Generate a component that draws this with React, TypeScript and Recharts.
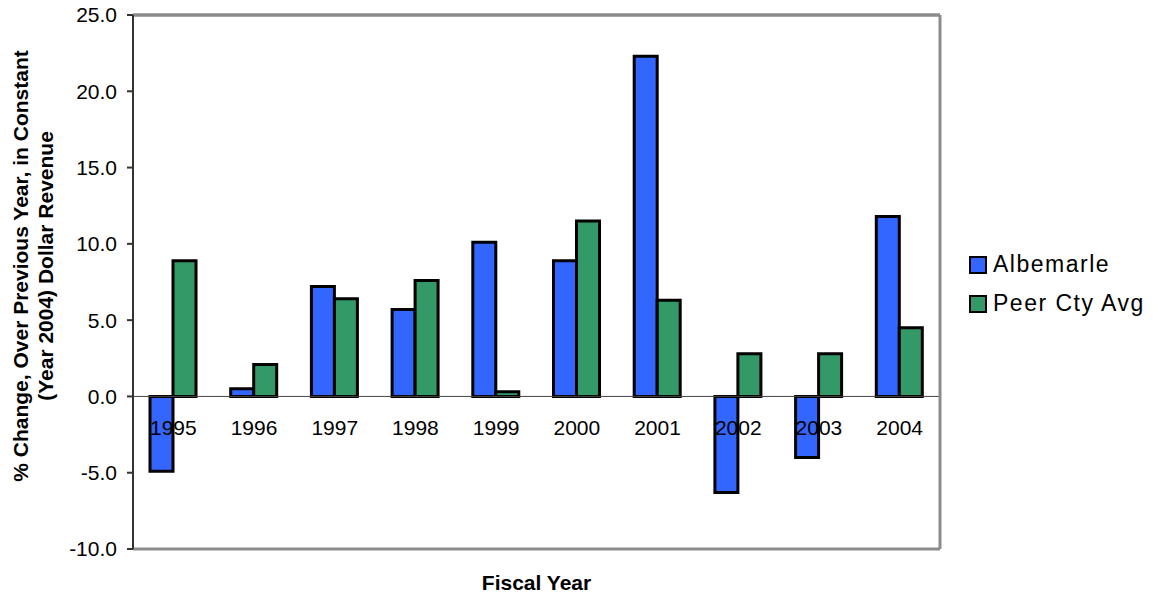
import React from "react";
import {
  BarChart,
  Bar,
  XAxis,
  YAxis,
  ReferenceLine,
  Legend,
} from "recharts";

const years = ["1995", "1996", "1997", "1998", "1999", "2000", "2001", "2002", "2003", "2004"];
const albemarle = [-4.9, 0.5, 7.2, 5.7, 10.1, 8.9, 22.3, -6.3, -4.0, 11.8];
const peerCtyAvg = [8.9, 2.1, 6.4, 7.6, 0.3, 11.5, 6.3, 2.8, 2.8, 4.5];
const yTicks = [-10, -5, 0, 5, 10, 15, 20, 25];

const seriesNames = ["Albemarle", "Peer Cty Avg"];
const seriesColors = ["#3366FF", "#339966"];

const data = years.map((y, i) => ({
  year: y,
  albemarle: albemarle[i],
  peer: peerCtyAvg[i],
}));

const FONT = "Arial, 'Liberation Sans', Helvetica, sans-serif";

const XTick = (props: any) => {
  const { x, y, payload } = props;
  return (
    <text x={x} y={y - 114} textAnchor="middle" fontFamily={FONT} fontSize={21} fill="#000">
      {payload.value}
    </text>
  );
};

const YLabel = () => {
  const cy = 258;
  const x1 = 20;
  const x2 = 45;
  return (
    <g>
      <text
        x={x1}
        y={cy}
        transform={`rotate(-90, ${x1}, ${cy})`}
        textAnchor="middle"
        fontFamily={FONT}
        fontWeight="bold"
        fontSize={21}
        fill="#000"
      >
        % Change, Over Previous Year, in Constant
      </text>
      <text
        x={x2}
        y={cy}
        transform={`rotate(-90, ${x2}, ${cy})`}
        textAnchor="middle"
        fontFamily={FONT}
        fontWeight="bold"
        fontSize={21}
        fill="#000"
      >
        (Year 2004) Dollar Revenue
      </text>
    </g>
  );
};

const XLabel = (props: any) => {
  const vb = props.viewBox || {};
  return (
    <text
      x={vb.x + vb.width / 2}
      y={vb.y + 41}
      textAnchor="middle"
      fontFamily={FONT}
      fontWeight="bold"
      fontSize={21}
      fill="#000"
    >
      Fiscal Year
    </text>
  );
};

const LegendContent = () => (
  <div style={{ fontFamily: FONT }}>
    {seriesNames.map((n, i) => (
      <div key={n} style={{ display: "flex", alignItems: "center", height: 39 }}>
        <div
          style={{
            width: 14,
            height: 14,
            background: seriesColors[i],
            border: "2px solid #000",
          }}
        />
        <span style={{ marginLeft: 6, fontSize: 23, letterSpacing: 1.5, color: "#000" }}>{n}</span>
      </div>
    ))}
  </div>
);

export default function App() {
  return (
    <div style={{ width: 1145, height: 586 }}>
      <BarChart
        width={1145}
        height={586}
        data={data}
        margin={{ top: 6, right: 212, bottom: 0, left: 65 }}
        barGap={0}
        barSize={23}
      >
        <XAxis
          xAxisId="top"
          dataKey="year"
          orientation="top"
          height={1}
          tick={false}
          tickLine={false}
          axisLine={{ stroke: "#8c8c8c", strokeWidth: 3 }}
        />
        <XAxis
          xAxisId="bottom"
          dataKey="year"
          orientation="bottom"
          height={45}
          interval={0}
          tickLine={false}
          tickSize={0}
          tickMargin={0}
          axisLine={{ stroke: "#8c8c8c", strokeWidth: 3 }}
          tick={<XTick />}
          label={<XLabel />}
        />
        <YAxis
          yAxisId="right"
          orientation="right"
          width={1}
          domain={[-10, 25]}
          ticks={yTicks}
          tick={false}
          tickLine={false}
          axisLine={{ stroke: "#8c8c8c", strokeWidth: 3 }}
        />
        <YAxis
          yAxisId="left"
          width={60}
          domain={[-10, 25]}
          ticks={yTicks}
          interval={0}
          tickFormatter={(v: number) => v.toFixed(1)}
          tick={{ fontFamily: FONT, fontSize: 21, fill: "#000" }}
          tickSize={6}
          tickMargin={10}
          tickLine={{ stroke: "#333", strokeWidth: 2 }}
          axisLine={{ stroke: "#333", strokeWidth: 2 }}
          label={<YLabel />}
        />
        <ReferenceLine xAxisId="bottom" yAxisId="left" y={0} stroke="#444" strokeWidth={1} />
        <ReferenceLine xAxisId="bottom" yAxisId="left" y={25} stroke="#8c8c8c" strokeWidth={3} />
        <Bar
          xAxisId="bottom"
          yAxisId="left"
          dataKey="albemarle"
          name={seriesNames[0]}
          fill={seriesColors[0]}
          stroke="#000"
          strokeWidth={3}
          isAnimationActive={false}
        />
        <Bar
          xAxisId="bottom"
          yAxisId="left"
          dataKey="peer"
          name={seriesNames[1]}
          fill={seriesColors[1]}
          stroke="#000"
          strokeWidth={3}
          isAnimationActive={false}
        />
        <Legend
          layout="vertical"
          align="center"
          verticalAlign="middle"
          content={<LegendContent />}
          wrapperStyle={{ left: 961, top: 237, width: 190, height: 80 }}
        />
      </BarChart>
    </div>
  );
}
